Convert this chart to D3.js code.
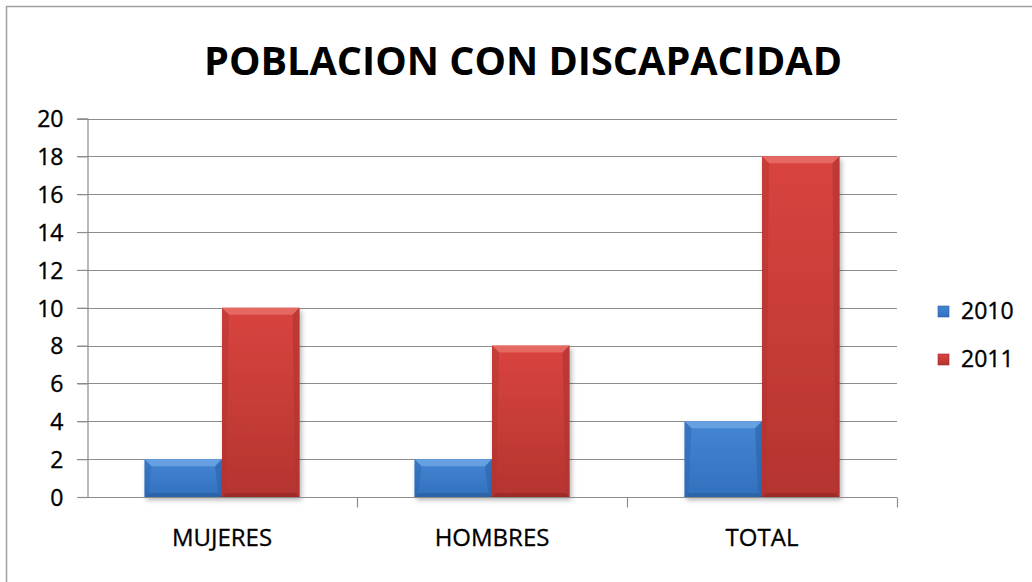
<!DOCTYPE html>
<html><head><meta charset="utf-8">
<script src="https://cdn.jsdelivr.net/npm/d3@7"></script>
<style>html,body{margin:0;padding:0;background:#fff}svg{display:block}</style>
</head><body>
<svg id="c" width="1032" height="582"></svg>
<script>
const title = "POBLACION CON DISCAPACIDAD";
const categories = ["MUJERES", "HOMBRES", "TOTAL"];
const seriesNames = ["2010", "2011"];
const values2010 = [2, 2, 4];
const values2011 = [10, 8, 18];
const yTicks = [0, 2, 4, 6, 8, 10, 12, 14, 16, 18, 20];

const svg = d3.select("#c");
const W = 1032, H = 582;
const L = 87, R = 897, T = 118.5, B = 497;
const font = "'Open Sans', sans-serif";

// frame
svg.append("rect").attr("x", 6.5).attr("y", 6.5).attr("width", W + 10).attr("height", H + 10)
  .attr("fill", "#fff").attr("stroke", "#a0a0a0").attr("stroke-width", 1.5);

const defs = svg.append("defs");
const colors = {
  "2010": {top: "#4586d4", bot: "#3170bd", light: "#6fa7e6", dark: "#2a5f9f", side: "#2d66ad"},
  "2011": {top: "#d9443f", bot: "#b5342f", light: "#e8706b", dark: "#962826", side: "#b03431"}
};
seriesNames.forEach(s => {
  const g = defs.append("linearGradient").attr("id", "g" + s).attr("x1", 0).attr("y1", 0).attr("x2", 0).attr("y2", 1);
  g.append("stop").attr("offset", "0%").attr("stop-color", colors[s].top);
  g.append("stop").attr("offset", "100%").attr("stop-color", colors[s].bot);
});
const f = defs.append("filter").attr("id", "sh").attr("x", "-20%").attr("y", "-20%").attr("width", "150%").attr("height", "150%");
f.append("feDropShadow").attr("dx", 2).attr("dy", 3).attr("stdDeviation", 2.5).attr("flood-color", "#000").attr("flood-opacity", 0.3);

const y = d3.scaleLinear().domain([0, 20]).range([B, T]);
const x = d3.scaleBand().domain(categories).range([L, R]).paddingInner(0.426).paddingOuter(0.213);
const xs = d3.scaleBand().domain(seriesNames).range([0, x.bandwidth()]);

// gridlines
svg.append("g").selectAll("line").data(yTicks.filter(d => d > 0)).join("line")
  .attr("x1", L - 10).attr("x2", R).attr("y1", d => Math.round(y(d)) + 0.5).attr("y2", d => Math.round(y(d)) + 0.5)
  .attr("stroke", "#8c8c8c").attr("stroke-width", 1.2);

// y axis
const ya = svg.append("g").attr("transform", `translate(${L + 0.5},0)`)
  .call(d3.axisLeft(y).tickValues(yTicks).tickSize(10).tickPadding(14));
ya.select(".domain").attr("stroke", "#8c8c8c").attr("stroke-width", 1.2);
ya.selectAll(".tick line").attr("stroke", "#8c8c8c").attr("stroke-width", 1.2);
ya.selectAll("text").attr("font-family", font).attr("font-size", 23).attr("fill", "#000")
  .attr("stroke", "#000").attr("stroke-width", 0.35).attr("dy", "0.36em");

// bars
const data = categories.map((c, i) => ({c, v: {"2010": values2010[i], "2011": values2011[i]}}));
const gb = svg.append("g");
data.forEach(d => {
  seriesNames.forEach(s => {
    const x0 = x(d.c) + xs(s), w = xs.bandwidth();
    const y0 = y(d.v[s]), h = y(0) - y(d.v[s]);
    const b = Math.min(7, h / 3), bb = Math.min(4, h / 4);
    const col = colors[s];
    const g = gb.append("g");
    g.append("rect").attr("x", x0).attr("y", y0).attr("width", w).attr("height", h)
      .attr("fill", `url(#g${s})`).attr("filter", "url(#sh)");
    const x1 = x0 + w, y1 = y0 + h;
    g.append("path").attr("d", `M${x0},${y0}L${x1},${y0}L${x1 - b},${y0 + b}L${x0 + b},${y0 + b}Z`).attr("fill", col.light).attr("opacity", 0.8);
    g.append("path").attr("d", `M${x0},${y0}L${x0 + b},${y0 + b}L${x0 + bb},${y1 - bb}L${x0},${y1}Z`).attr("fill", col.side).attr("opacity", 0.45);
    g.append("path").attr("d", `M${x1},${y0}L${x1 - b},${y0 + b}L${x1 - bb},${y1 - bb}L${x1},${y1}Z`).attr("fill", col.side).attr("opacity", 0.65);
    g.append("path").attr("d", `M${x0},${y1}L${x0 + bb},${y1 - bb}L${x1 - bb},${y1 - bb}L${x1},${y1}Z`).attr("fill", col.dark).attr("opacity", 0.7);
  });
});

// x axis
const xa = svg.append("g").attr("transform", `translate(0,${Math.round(B) + 0.5})`)
  .call(d3.axisBottom(x).tickSize(0).tickPadding(36));
xa.select(".domain").remove();
xa.append("line").attr("x1", L).attr("x2", R).attr("stroke", "#8c8c8c").attr("stroke-width", 1.2);
xa.selectAll(".tick text").attr("font-family", font).attr("font-size", 24).attr("fill", "#000")
  .attr("stroke", "#000").attr("stroke-width", 0.3).attr("dy", "0.5em");
const step = x.step();
const bounds = categories.map((c, i) => L + step * (i + 1));
xa.selectAll(".sep").data(bounds).join("line").attr("class", "sep")
  .attr("x1", d => Math.round(d) + 0.5).attr("x2", d => Math.round(d) + 0.5).attr("y1", 0).attr("y2", 10)
  .attr("stroke", "#8c8c8c").attr("stroke-width", 1.2);

// title
svg.append("text").attr("x", 523).attr("y", 75).attr("text-anchor", "middle")
  .attr("font-family", font).attr("font-weight", 700).attr("font-size", 40).attr("fill", "#000")
  .attr("textLength", 638).attr("lengthAdjust", "spacingAndGlyphs").text(title);

// legend
const lg = svg.append("g");
seriesNames.forEach((s, i) => {
  const ly = 311 + i * 48;
  lg.append("rect").attr("x", 938).attr("y", ly - 5).attr("width", 11).attr("height", 11)
    .attr("fill", `url(#g${s})`).attr("stroke", colors[s].dark).attr("stroke-width", 0.6);
  lg.append("text").attr("x", 961).attr("y", ly).attr("dy", "0.36em")
    .attr("font-family", font).attr("font-size", 23).attr("fill", "#000")
    .attr("stroke", "#000").attr("stroke-width", 0.35).text(s);
});
</script>
</body></html>
